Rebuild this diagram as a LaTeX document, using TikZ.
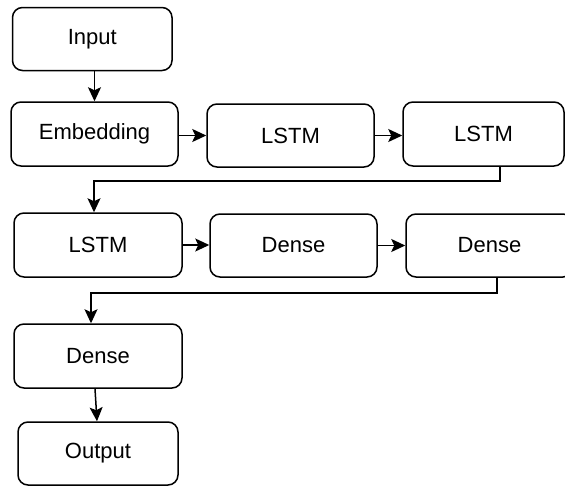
\documentclass[tikz,border=0pt]{standalone}
\usepackage{fontspec}
\setmainfont{Liberation Sans}
\usetikzlibrary{arrows.meta,calc}
\tikzset{
  layer/.style={draw=black, line width=1.5pt, rounded corners=10pt, fill=white,
    inner sep=0pt, font=\fontsize{22}{26}\selectfont},
  arr/.style={draw=black, line width=1.5pt, -{Stealth[length=14pt,width=13pt,inset=3pt]}}
}
\begin{document}
\begin{tikzpicture}[x=1pt,y=-1pt]
  \useasboundingbox (0,0) rectangle (565,488);
  \clip (0,0) rectangle (565,488);
  \fill[white] (0,0) rectangle (565,488);

  % first column and rows of layers
  \node[layer, minimum width=159.5pt, minimum height=63pt] (in)  at (92.25,39) {Input};
  \node[layer, minimum width=167pt, minimum height=64pt] (emb) at (94.5,134) {Embedding};
  \node[layer, minimum width=167pt, minimum height=63pt] (l1)  at (290.5,135.5) {LSTM};
  \node[layer, minimum width=161pt, minimum height=64pt] (l2)  at (483.5,134) {LSTM};
  \node[layer, minimum width=168pt, minimum height=64pt] (l3)  at (98,245) {LSTM};
  \node[layer, minimum width=167pt, minimum height=63pt] (d1)  at (293.5,245.5) {Dense};
  \node[layer, minimum width=167pt, minimum height=63pt] (d2)  at (489.5,245.5) {Dense};
  \node[layer, minimum width=168pt, minimum height=64pt] (d3)  at (98,356) {Dense};
  \node[layer, minimum width=160pt, minimum height=63pt] (out) at (98,453.5) {Output};

  % bend points of the row-to-row connectors
  \coordinate (b1) at (500,181);
  \coordinate (b2) at (94,181);
  \coordinate (b3) at (497,293);
  \coordinate (b4) at (91,293);

  % connectors
  \draw[arr] (emb.north |- in.south) -- (emb.north);
  \draw[arr] (emb.east |- l1.west) -- (l1.west);
  \draw[arr] (l1.east) -- (l1.east -| l2.west);
  \draw[arr] (b1 |- l2.south) -- (b1) -- (b2) -- (b2 |- l3.north);
  \draw[arr] (l3.east) -- (l3.east -| d1.west);
  \draw[arr] (d1.east) -- (d1.east -| d2.west);
  \draw[arr] (b3 |- d2.south) -- (b3) -- (b4) -- (b4 |- d3.north);
  \draw[arr] ($(d3.south)+(-3,0)$) -- ($(out.north)+(-1,0)$);
\end{tikzpicture}
\end{document}
